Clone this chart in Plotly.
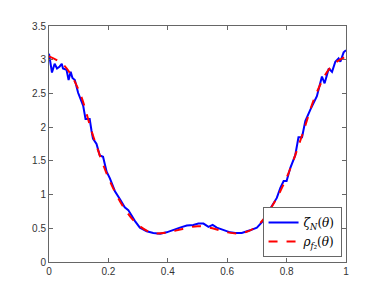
"""
Empirical vs. model angular density
"""

import plotly.graph_objects as go

# blue: empirical zeta_N(theta)
theta_n = [0.0, 0.010, 0.019, 0.027, 0.036, 0.043, 0.047, 0.059, 0.066, 0.073,
           0.079, 0.087, 0.098, 0.115, 0.123, 0.137, 0.143, 0.148, 0.160, 0.171,
           0.182, 0.194, 0.205, 0.222, 0.239, 0.255, 0.267, 0.272, 0.289, 0.306,
           0.329, 0.351, 0.374, 0.396, 0.418, 0.441, 0.464, 0.486, 0.503, 0.520,
           0.537, 0.551, 0.565, 0.587, 0.610, 0.627, 0.649, 0.677, 0.700, 0.717,
           0.734, 0.750, 0.767, 0.779, 0.790, 0.800, 0.812, 0.829, 0.840, 0.852,
           0.863, 0.880, 0.902, 0.919, 0.928, 0.942, 0.953, 0.964, 0.975, 0.981,
           0.992, 1.0]
zeta_n = [3.09, 2.81, 2.94, 2.87, 2.90, 2.94, 2.87, 2.85, 2.70, 2.82,
          2.73, 2.70, 2.51, 2.32, 2.12, 2.12, 1.95, 1.83, 1.75, 1.58,
          1.56, 1.34, 1.24, 1.05, 0.93, 0.81, 0.77, 0.73, 0.61, 0.51,
          0.456, 0.43, 0.42, 0.44, 0.48, 0.51, 0.54, 0.55, 0.57, 0.57,
          0.52, 0.55, 0.51, 0.48, 0.44, 0.43, 0.43, 0.47, 0.51, 0.59,
          0.71, 0.83, 0.95, 1.10, 1.20, 1.20, 1.39, 1.58, 1.85, 1.85,
          2.09, 2.26, 2.46, 2.75, 2.65, 2.87, 2.82, 2.97, 3.02, 2.97,
          3.11, 3.14]

# red dashed: model rho_f2(theta)
theta_r = [0.0, 0.05, 0.1, 0.15, 0.2, 0.25, 0.3, 0.35, 0.4, 0.45, 0.5,
           0.55, 0.6, 0.65, 0.7, 0.75, 0.8, 0.85, 0.9, 0.95, 1.0]
rho_f2 = [3.05, 2.92, 2.55, 1.85, 1.25, 0.82, 0.55, 0.43, 0.44, 0.49, 0.53,
          0.50, 0.44, 0.43, 0.53, 0.82, 1.25, 1.85, 2.50, 2.90, 3.05]

x_ticks = [0, 0.2, 0.4, 0.6, 0.8, 1]
x_labels = ["0", "0.2", "0.4", "0.6", "0.8", "1"]

fig = go.Figure()

fig.add_trace(go.Scatter(
    x=theta_n, y=zeta_n,
    mode="lines",
    name="<i>ζ<sub>N</sub></i>(<i>θ</i>)",
    line=dict(color="#0000ff", width=2),
))

fig.add_trace(go.Scatter(
    x=theta_r, y=rho_f2,
    mode="lines",
    name="<i>ρ<sub>f₂</sub></i>(<i>θ</i>)",
    line=dict(color="#ff0000", width=2, dash="dash", shape="spline"),
))

axis_style = dict(
    showgrid=False, zeroline=False,
    showline=True, linecolor="#666666", linewidth=1, mirror="ticks",
    ticks="inside", ticklen=4, tickcolor="#666666",
    tickfont=dict(family="Liberation Sans, Arial", size=10, color="#333333"),
)

# page body adds an 8px offset, so the figure is sized to compensate
fig.update_layout(
    width=374, height=287,
    margin=dict(l=41, r=36, t=14, b=33),
    paper_bgcolor="white", plot_bgcolor="white",
    xaxis=dict(range=[0, 1], tickvals=x_ticks, ticktext=x_labels, **axis_style),
    yaxis=dict(range=[0, 3.5], dtick=0.5, **axis_style),
    legend=dict(
        x=0.985, y=0.021, xanchor="right", yanchor="bottom",
        bgcolor="white", bordercolor="#666666", borderwidth=1,
        font=dict(family="DejaVu Serif, Liberation Serif", size=12, color="black"),
        tracegroupgap=0, itemwidth=30,
    ),
    showlegend=True,
)

fig.write_html("out.html")
